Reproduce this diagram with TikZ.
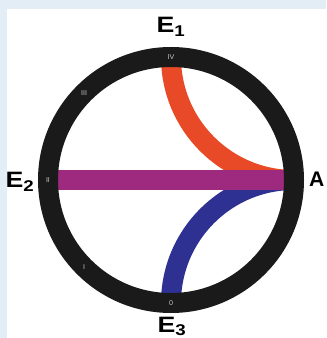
\documentclass[tikz,border=0pt]{standalone}
\usepackage{fontspec}
\setmainfont{Liberation Sans}
\newfontfamily\lblfont{Liberation Sans}[FakeStretch=1.2]
\usepackage{xcolor}
\usetikzlibrary{positioning}
\definecolor{framebg}{RGB}{227,237,245}
\definecolor{ringblack}{RGB}{26,26,26}
\definecolor{pathorange}{RGB}{232,74,39}
\definecolor{pathpurple}{RGB}{158,42,128}
\definecolor{pathblue}{RGB}{46,49,146}
\definecolor{numgray}{RGB}{200,200,200}

\begin{document}
\begin{tikzpicture}[
  x=0.03cm, y=0.03cm,
  ring/.style={draw=ringblack, line width=0.6cm},
  band/.style={line width=0.6cm},
  vertex/.style={font=\lblfont\bfseries\fontsize{19}{19}\selectfont, inner sep=0pt},
  numeral/.style={font=\fontsize{6}{6}\selectfont, text=numgray, inner sep=0pt}
]
  \useasboundingbox[fill=framebg] (-171,-158) rectangle (155,180);
  \fill[white] (-164,-158) rectangle (155,171);

  \coordinate (e1) at (0,123);
  \coordinate (e2) at (-123,0);
  \coordinate (e3) at (0,-123);
  \coordinate (a)  at (123,0);

  \draw[band, pathorange] (e1) arc[start angle=180, end angle=270, radius=123];
  \draw[band, pathblue]   (e3) arc[start angle=180, end angle=90, radius=123];
  \draw[band, pathpurple, line cap=butt] (e2) -- (a);

  \draw[ring] (0,0) circle[radius=123];

  \node[numeral] (n4) at (e1) {IV};
  \node[numeral] (n3) at (135:123) {III};
  \node[numeral] (n2) at (e2) {II};
  \node[numeral] (n1) at (225:123) {I};
  \node[numeral] (n0) at (e3) {0};

  \node[vertex, anchor=base] (le1) at (0,147) {E\textsubscript{1}};
  \node[vertex, anchor=base] (le2) at (-151,-8) {E\textsubscript{2}};
  \node[vertex, anchor=base] (le3) at (1,-152) {E\textsubscript{3}};
  \node[vertex, font=\bfseries\fontsize{18}{18}\selectfont, anchor=base west] (la) at (138,-7) {A};
\end{tikzpicture}
\end{document}
